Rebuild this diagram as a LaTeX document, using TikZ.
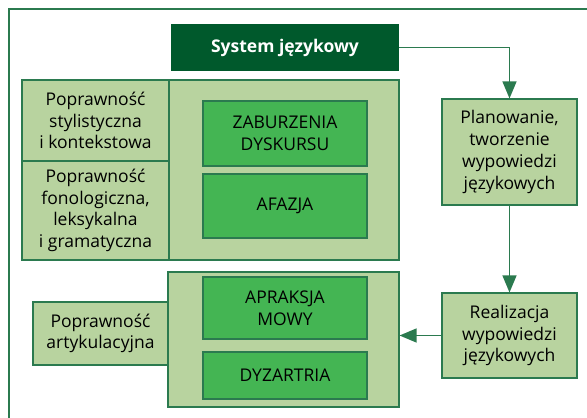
\documentclass[tikz,border=0pt]{standalone}
\usepackage{fontspec}
\setmainfont{Open Sans}
\usetikzlibrary{arrows.meta}
\definecolor{ciemny}{HTML}{00592C}
\definecolor{jasny}{HTML}{B8D39F}
\definecolor{sredni}{HTML}{44B553}
\definecolor{linia}{HTML}{2B7A4F}

\begin{document}
\begin{tikzpicture}[x=1pt, y=-1pt,
  every node/.style={font=\fontsize{17.5}{21.7}\selectfont, align=center, inner sep=0pt, text=black},
  pole/.style={draw=linia, line width=1.1pt, fill=jasny},
  blok/.style={draw=linia, line width=1.1pt, fill=sredni},
  strzalka/.style={draw=linia, line width=1.3pt, -{Triangle[length=17pt, width=14pt]}}]
  \useasboundingbox (0,0) rectangle (587,418);
  \draw[linia, line width=1.5pt] (587,9) -- (9,9) -- (9,418);
  % system
  \node[fill=ciemny, minimum width=228pt, minimum height=47pt, text=white, font=\fontsize{17.5}{21.7}\bfseries\selectfont]
    (sys) at (285,47.5) {System językowy};
  % gorny blok
  \node[pole, minimum width=230pt, minimum height=180pt] (gora) at (284,170) {};
  \node[pole, minimum width=147pt, minimum height=81pt] (styl) at (95.5,120.5)
    {Poprawność\\stylistyczna\\i kontekstowa};
  \node[pole, minimum width=147pt, minimum height=99pt] (fono) at (95.5,210.5)
    {Poprawność\\fonologiczna,\\leksykalna\\i gramatyczna};
  \node[blok, minimum width=164pt, minimum height=65pt] (zab) at (285,133.5) {ZABURZENIA\\DYSKURSU};
  \node[blok, minimum width=164pt, minimum height=64pt] (afa) at (285,206) {AFAZJA};
  % dolny blok
  \node[pole, minimum width=231pt, minimum height=135pt] (dol) at (283.5,339.5) {};
  \node[blok, minimum width=164pt, minimum height=62pt] (apr) at (285,308) {APRAKSJA\\MOWY};
  \node[blok, minimum width=164pt, minimum height=47pt] (dyz) at (285,375.5) {DYZARTRIA};
  \node[pole, minimum width=135pt, minimum height=63pt] (art) at (100.5,333.5)
    {Poprawność\\artykulacyjna};
  % prawa kolumna
  \node[pole, minimum width=135pt, minimum height=106pt] (plan) at (509.5,152)
    {Planowanie,\\tworzenie\\wypowiedzi\\językowych};
  \node[pole, minimum width=135pt, minimum height=85pt] (real) at (509.5,335.5)
    {Realizacja\\wypowiedzi\\językowych};
  % strzalki
  \draw[strzalka] (sys.east) -| (plan.north);
  \draw[strzalka] (plan.south) -- (real.north);
  \draw[strzalka] (real.west) -- (real.west -| dol.east);
\end{tikzpicture}
\end{document}
